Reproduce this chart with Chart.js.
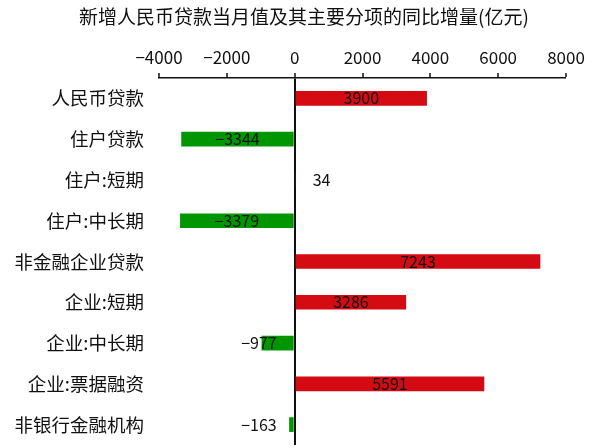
<!DOCTYPE html>
<html>
<head>
<meta charset="utf-8">
<script src="https://cdn.jsdelivr.net/npm/chart.js@4/dist/chart.umd.min.js"></script>
<style>
  body { margin: 0; background: #fff; }
</style>
</head>
<body>
<canvas id="myChart" width="595" height="448"></canvas>
<script>
const FONT = '"Noto Sans CJK SC", "Noto Sans", sans-serif';

const titleText = '新增人民币贷款当月值及其主要分项的同比增量(亿元)';
const categories = ['人民币贷款', '住户贷款', '住户:短期', '住户:中长期', '非金融企业贷款', '企业:短期', '企业:中长期', '企业:票据融资', '非银行金融机构'];
const values = [3900, -3344, 34, -3379, 7243, 3286, -977, 5591, -163];
const xTicks = [-4000, -2000, 0, 2000, 4000, 6000, 8000];

const RED = '#d40b12';
const GREEN = '#009600';

const fmt = v => (v < 0 ? '\u2212' + Math.abs(v) : String(v));

// title sits a little right of the canvas centre, so draw it by hand
const topTitle = {
  id: 'topTitle',
  afterDraw(chart) {
    const c = chart.ctx;
    c.save();
    c.font = '19px ' + FONT;
    c.fillStyle = '#111';
    c.textAlign = 'center';
    c.textBaseline = 'middle';
    c.fillText(titleText, 304, 17);
    c.restore();
  }
};

// value labels: centred inside long bars, next to the zero line for short ones
const barLabels = {
  id: 'barLabels',
  afterDatasetsDraw(chart) {
    const c = chart.ctx;
    const meta = chart.getDatasetMeta(0);
    c.save();
    c.font = '16px ' + FONT;
    c.fillStyle = '#111';
    c.textBaseline = 'middle';
    meta.data.forEach((bar, i) => {
      const v = values[i];
      const txt = fmt(v);
      const w = c.measureText(txt).width;
      const len = Math.abs(bar.x - bar.base);
      if (len > w + 4) {
        c.textAlign = 'center';
        c.fillText(txt, (bar.x + bar.base) / 2, bar.y);
      } else if (v >= 0) {
        c.textAlign = 'left';
        c.fillText(txt, bar.base + 17, bar.y);
      } else {
        c.textAlign = 'right';
        c.fillText(txt, bar.base - 17, bar.y);
      }
    });
    c.restore();
  }
};

const ctx = document.querySelector('#myChart');

new Chart(ctx, {
  type: 'bar',
  data: {
    labels: categories,
    datasets: [{
      data: values,
      backgroundColor: values.map(v => (v >= 0 ? RED : GREEN)),
      barPercentage: 0.36,
      categoryPercentage: 1
    }]
  },
  options: {
    indexAxis: 'y',
    responsive: false,
    animation: false,
    layout: { padding: { left: 0, right: 29, top: 38, bottom: 3 } },
    plugins: {
      legend: { display: false },
      tooltip: { enabled: false },
      title: { display: false }
    },
    scales: {
      x: {
        position: 'top',
        min: -4000,
        max: 8000,
        afterBuildTicks: s => { s.ticks = xTicks.map(v => ({ value: v })); },
        afterFit: s => { s.height = 40; },
        ticks: {
          color: '#111',
          padding: 5,
          maxRotation: 0,
          font: { family: FONT, size: 17 },
          callback: v => fmt(v)
        },
        grid: {
          drawOnChartArea: true,
          color: c => (c.tick && c.tick.value === 0 ? '#111' : 'rgba(0,0,0,0)'),
          lineWidth: c => (c.tick && c.tick.value === 0 ? 2 : 0),
          tickColor: '#111',
          tickWidth: 1.5,
          tickLength: 5
        },
        border: { display: true, color: '#111', width: 1.5 }
      },
      y: {
        afterFit: s => {
          s.width = 159;
          s.paddingTop = 0;
          s.paddingBottom = 0;
        },
        ticks: {
          color: '#111',
          padding: 15,
          font: { family: FONT, size: 18.5 }
        },
        grid: { display: false, drawTicks: false },
        border: { display: false }
      }
    }
  },
  plugins: [barLabels, topTitle]
});
</script>
</body>
</html>
